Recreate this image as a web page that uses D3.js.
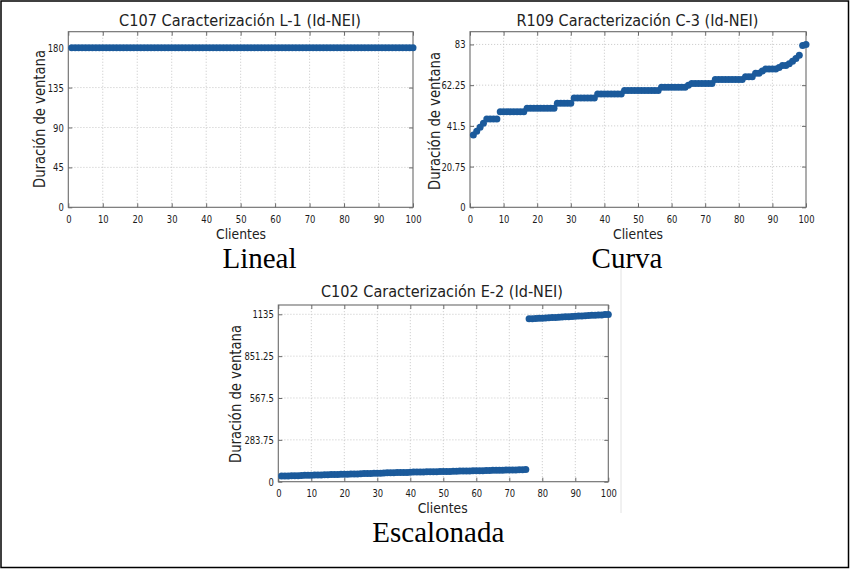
<!DOCTYPE html>
<html><head><meta charset="utf-8">
<script src="https://cdn.jsdelivr.net/npm/d3@7/dist/d3.min.js"></script>
<style>
body{margin:0;background:#fff}
.tick text{font-family:"DejaVu Sans Condensed","DejaVu Sans",sans-serif;font-stretch:condensed;font-size:11px;fill:#1a1a1a}
.lbl{font-family:"DejaVu Sans Condensed","DejaVu Sans",sans-serif;font-stretch:condensed;fill:#222}
.cap{font-family:"Liberation Serif","Times New Roman",serif;font-size:29px;fill:#000}
</style>
</head><body>
<svg id="c" width="850" height="569"></svg>
<script>
// ---------------- data ----------------
const clientes = d3.range(1, 101); // client index 1..100
const xTicks = [0, 10, 20, 30, 40, 50, 60, 70, 80, 90, 100];

const linealValues = [
  180,180,180,180,180,180,180,180,180,180,
  180,180,180,180,180,180,180,180,180,180,
  180,180,180,180,180,180,180,180,180,180,
  180,180,180,180,180,180,180,180,180,180,
  180,180,180,180,180,180,180,180,180,180,
  180,180,180,180,180,180,180,180,180,180,
  180,180,180,180,180,180,180,180,180,180,
  180,180,180,180,180,180,180,180,180,180,
  180,180,180,180,180,180,180,180,180,180,
  180,180,180,180,180,180,180,180,180,180
];
const linealTicks = [0, 45, 90, 135, 180];

const curvaValues = [
  36.8,38.8,40.8,42.9,45,45,45,45,
  48.7,48.7,48.7,48.7,48.7,48.7,48.7,48.7,
  50.5,50.5,50.5,50.5,50.5,50.5,50.5,50.5,50.5,
  53,53,53,53,53,
  55.7,55.7,55.7,55.7,55.7,55.7,55.7,
  57.8,57.8,57.8,57.8,57.8,57.8,57.8,57.8,
  59.5,59.5,59.5,59.5,59.5,59.5,59.5,59.5,59.5,59.5,59.5,
  61.2,61.2,61.2,61.2,61.2,61.2,61.2,61.2,
  62.2,
  63.1,63.1,63.1,63.1,63.1,63.1,63.1,
  65.1,65.1,65.1,65.1,65.1,65.1,65.1,65.1,65.1,
  66.5,66.5,66.5,
  68.3,68.3,69.5,
  70.5,70.5,70.5,70.5,
  71.2,72.3,72.3,73.2,74.4,75.8,77.5,82.5,83
];
const curvaTicks = [0, 20.75, 41.5, 62.25, 83];

const escalonadaValues = [
  38,39,39,40,41,41,42,43,43,44,
  45,45,46,47,47,48,49,49,50,51,
  51,52,53,53,54,55,55,56,57,57,
  58,59,60,60,61,62,62,63,63,64,
  65,65,66,66,67,67,68,68,69,69,
  70,70,71,71,72,72,73,73,74,74,
  75,75,76,76,77,77,78,78,79,79,
  80,80,81,81,82,
  1104,1105,1106,1108,1109,1110,1111,1113,1114,1115,
  1116,1118,1119,1120,1121,1123,1124,1125,1126,1128,
  1129,1130,1131,1133,1134
];
const escalonadaTicks = [0, 283.75, 567.5, 851.25, 1135];

const titles = [
  "C107 Caracterización L-1 (Id-NEI)",
  "R109 Caracterización C-3 (Id-NEI)",
  "C102 Caracterización E-2 (Id-NEI)"
];
const captions = ["Lineal", "Curva", "Escalonada"];
const xLabel = "Clientes";
const yLabel = "Duración de ventana";

// ---------------- drawing ----------------
const svg = d3.select("#c");
const dotColor = "#1b5a9b";

const panels = [
  {values: linealValues, ticks: linealTicks, ymax: 198,
   left: 68.3, right: 413, top: 31.7, bottom: 207.3,
   title: titles[0], caption: captions[0], titleX: 240, titleY: 26,
   xlabX: 241, xlabY: 239, ylabX: 45, ylabY: 119, capX: 259.5, capY: 268},
  {values: curvaValues, ticks: curvaTicks, ymax: 89.5,
   left: 470, right: 806, top: 31.7, bottom: 207.3,
   title: titles[1], caption: captions[1], titleX: 637.5, titleY: 26,
   xlabX: 638, xlabY: 239, ylabX: 440, ylabY: 121, capX: 627, capY: 268},
  {values: escalonadaValues, ticks: escalonadaTicks, ymax: 1198,
   left: 278.3, right: 608.3, top: 305, bottom: 481.7,
   title: titles[2], caption: captions[2], titleX: 442, titleY: 296.5,
   xlabX: 442.7, xlabY: 512.5, ylabX: 240.5, ylabY: 394, capX: 438.3, capY: 541.5}
];

// faint image edge line near bottom chart
svg.append("line").attr("x1", 621).attr("x2", 621).attr("y1", 265).attr("y2", 513)
  .attr("stroke", "#e2e2e2").attr("stroke-width", 1);

panels.forEach(p => {
  const g = svg.append("g");
  const x = d3.scaleLinear().domain([0, 100]).range([p.left, p.right]);
  const y = d3.scaleLinear().domain([0, p.ymax]).range([p.bottom, p.top]);

  // grid
  g.append("g").selectAll("line").data(xTicks.slice(1, -1)).join("line")
    .attr("x1", d => x(d)).attr("x2", d => x(d))
    .attr("y1", p.top).attr("y2", p.bottom)
    .attr("stroke", "#c4c4c4").attr("stroke-width", 0.8).attr("stroke-dasharray", "1.2,1.8");
  g.append("g").selectAll("line").data(p.ticks.slice(1)).join("line")
    .attr("x1", p.left).attr("x2", p.right)
    .attr("y1", d => y(d)).attr("y2", d => y(d))
    .attr("stroke", "#c4c4c4").attr("stroke-width", 0.8).attr("stroke-dasharray", "1.2,1.8");

  // axes (ticks pointing inward on all sides)
  const fmt = d => String(d);
  const ab = g.append("g").attr("transform", `translate(0,${p.bottom})`)
    .call(d3.axisBottom(x).tickValues(xTicks).tickFormat(fmt).tickSize(-4).tickPadding(7.5));
  const al = g.append("g").attr("transform", `translate(${p.left},0)`)
    .call(d3.axisLeft(y).tickValues(p.ticks).tickFormat(fmt).tickSize(-4).tickPadding(4.5));
  const at = g.append("g").attr("transform", `translate(0,${p.top})`)
    .call(d3.axisTop(x).tickValues(xTicks).tickFormat("").tickSize(-4));
  const ar = g.append("g").attr("transform", `translate(${p.right},0)`)
    .call(d3.axisRight(y).tickValues(p.ticks).tickFormat("").tickSize(-4));
  [ab, al, at, ar].forEach(a => {
    a.select(".domain").remove();
    a.selectAll(".tick line").attr("stroke", "#6a6a6a");
  });
  at.selectAll("text").remove();
  ar.selectAll("text").remove();
  // narrow the tick label glyphs like the original font
  [ab, al].forEach(a => a.selectAll(".tick text").each(function () {
    const w = this.getComputedTextLength();
    d3.select(this).attr("textLength", w * 0.85).attr("lengthAdjust", "spacingAndGlyphs");
  }));

  // frame
  g.append("rect").attr("x", p.left).attr("y", p.top)
    .attr("width", p.right - p.left).attr("height", p.bottom - p.top)
    .attr("fill", "none").attr("stroke", "#6a6a6a").attr("stroke-width", 1.1);

  // dots
  g.append("g").selectAll("circle").data(clientes).join("circle")
    .attr("cx", (d) => x(d)).attr("cy", (d, i) => y(p.values[i]))
    .attr("r", 3.5).attr("fill", dotColor);

  // texts
  g.append("text").attr("class", "lbl").attr("x", p.titleX).attr("y", p.titleY)
    .attr("text-anchor", "middle").attr("font-size", 15.5)
    .attr("textLength", 242).attr("lengthAdjust", "spacingAndGlyphs").text(p.title);
  g.append("text").attr("class", "lbl").attr("x", p.xlabX).attr("y", p.xlabY)
    .attr("text-anchor", "middle").attr("font-size", 14.5)
    .attr("textLength", 50).attr("lengthAdjust", "spacingAndGlyphs").text(xLabel);
  g.append("text").attr("class", "lbl")
    .attr("transform", `translate(${p.ylabX},${p.ylabY}) rotate(-90)`)
    .attr("text-anchor", "middle").attr("font-size", 15)
    .attr("textLength", 138).attr("lengthAdjust", "spacingAndGlyphs").text(yLabel);
  g.append("text").attr("class", "cap").attr("x", p.capX).attr("y", p.capY)
    .attr("text-anchor", "middle").text(p.caption);
});

// outer border
svg.append("rect").attr("x", 1).attr("y", 1).attr("width", 847.5).attr("height", 566.5)
  .attr("fill", "none").attr("stroke", "#000").attr("stroke-width", 1.5);
</script>
</body></html>
